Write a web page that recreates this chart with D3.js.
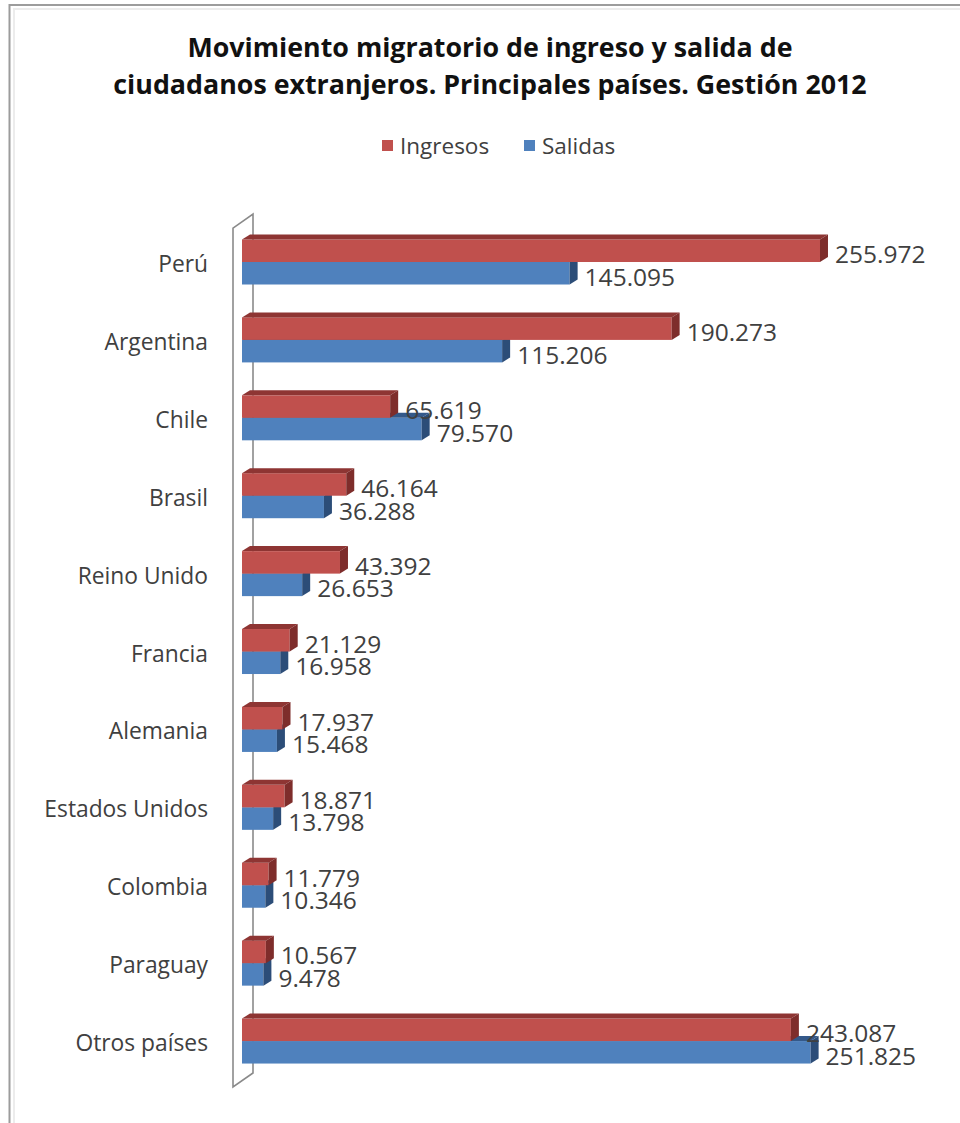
<!DOCTYPE html>
<html>
<head>
<meta charset="utf-8">
<script src="https://cdnjs.cloudflare.com/ajax/libs/d3/7.8.5/d3.min.js"></script>
<style>
  html, body { margin: 0; padding: 0; background: #fff; }
  svg { display: block; }
</style>
</head>
<body>
<svg id="chart" width="960" height="1123"></svg>
<script>
// Movimiento migratorio 2012 – ingresos y salidas por país
const categories = ["Perú", "Argentina", "Chile", "Brasil", "Reino Unido", "Francia",
  "Alemania", "Estados Unidos", "Colombia", "Paraguay", "Otros países"];
const ingresos = [255972, 190273, 65619, 46164, 43392, 21129, 17937, 18871, 11779, 10567, 243087];
const salidas  = [145095, 115206, 79570, 36288, 26653, 16958, 15468, 13798, 10346, 9478, 251825];
const seriesNames = ["Ingresos", "Salidas"];
const titleLines = ["Movimiento migratorio de ingreso y salida de",
  "ciudadanos extranjeros. Principales países. Gestión 2012"];

const W = 960, H = 1123;
const FONT = "'Open Sans', sans-serif";
const colors = {
  Ingresos: { front: "#C0504D", top: "#8E3533", side: "#7E2D2B" },
  Salidas:  { front: "#4F81BD", top: "#34598A", side: "#2C4D78" }
};

const svg = d3.select("#chart");

// outer chart frame
svg.append("rect").attr("x", 9.5).attr("y", 5).attr("width", 1000).attr("height", 1200)
  .attr("fill", "#fff").attr("stroke", "#9c9c9c").attr("stroke-width", 2);
svg.append("rect").attr("x", 14).attr("y", 9).attr("width", 1000).attr("height", 1200)
  .attr("fill", "none").attr("stroke", "#ececec").attr("stroke-width", 2);

// title
const title = svg.append("text").attr("text-anchor", "middle")
  .attr("font-family", FONT).attr("font-weight", 700).attr("font-size", 26.8).attr("fill", "#111");
titleLines.forEach((t, i) => {
  title.append("tspan").attr("x", 490).attr("y", 57 + i * 37).text(t);
});

// legend
const legendX = { Ingresos: 382, Salidas: 524 };
seriesNames.forEach(name => {
  const g = svg.append("g").attr("transform", `translate(${legendX[name]},146)`);
  g.append("rect").attr("x", 0).attr("y", -6).attr("width", 11).attr("height", 11)
    .attr("fill", colors[name].front);
  g.append("text").attr("x", 18).attr("y", 0).attr("dy", "0.35em")
    .attr("font-family", FONT).attr("font-size", 22.5).attr("fill", "#404040").text(name);
});

// scales
const x = d3.scaleLinear().domain([0, 300000]).range([242, 919.4]);
const y = d3.scaleBand().domain(categories).range([223.05, 1080]).padding(0);
const barH = 22.5;
const dx = 8, dy = -5;

// 3D side wall behind the bars
const [yTop, yBot] = y.range();
const wall = svg.append("g").attr("fill", "none").attr("stroke", "#8a8a8a").attr("stroke-width", 1.6);
const wx0 = 233, wx1 = 253, wdy = -14;
wall.append("path").attr("d",
  `M${wx0},${yBot + 7} L${wx0},${yTop + 5} L${wx1},${yTop + 5 + wdy} L${wx1},${yBot + 7 + wdy} Z`);

const fmt = d3.formatLocale({ decimal: ",", thousands: ".", grouping: [3], currency: ["", ""] }).format(",d");

function box(g, v, y0, c) {
  const x0 = x(0), x1 = x(v), y1 = y0 + barH;
  g.append("rect").attr("x", x0).attr("y", y0).attr("width", x1 - x0).attr("height", barH)
    .attr("fill", c.front);
  g.append("polygon").attr("points",
    [[x0, y0], [x0 + dx, y0 + dy], [x1 + dx, y0 + dy], [x1, y0]].join(" "))
    .attr("fill", c.top);
  g.append("polygon").attr("points",
    [[x1, y0], [x1 + dx, y0 + dy], [x1 + dx, y1 + dy], [x1, y1]].join(" "))
    .attr("fill", c.side);
}

const plot = svg.append("g");
categories.forEach((cat, i) => {
  const c = y(cat) + y.bandwidth() / 2;
  const g = plot.append("g");
  box(g, salidas[i], c, colors.Salidas);
  box(g, ingresos[i], c - barH, colors.Ingresos);
});

// value labels
categories.forEach((cat, i) => {
  const c = y(cat) + y.bandwidth() / 2;
  [[ingresos[i], c - barH / 2 + 4], [salidas[i], c + barH / 2 + 4]].forEach(([v, ty]) => {
    svg.append("text").attr("x", x(v) + dx + 7).attr("y", ty).attr("dy", "0.35em")
      .attr("font-family", FONT).attr("font-size", 24.5).attr("fill", "#404040").text(fmt(v));
  });
});

// category axis labels
svg.append("g").selectAll("text").data(categories).join("text")
  .attr("x", 208).attr("y", d => y(d) + y.bandwidth() / 2 + 2).attr("dy", "0.35em")
  .attr("text-anchor", "end").attr("font-family", FONT).attr("font-size", 22.8)
  .attr("fill", "#404040").text(d => d);
</script>
</body>
</html>
